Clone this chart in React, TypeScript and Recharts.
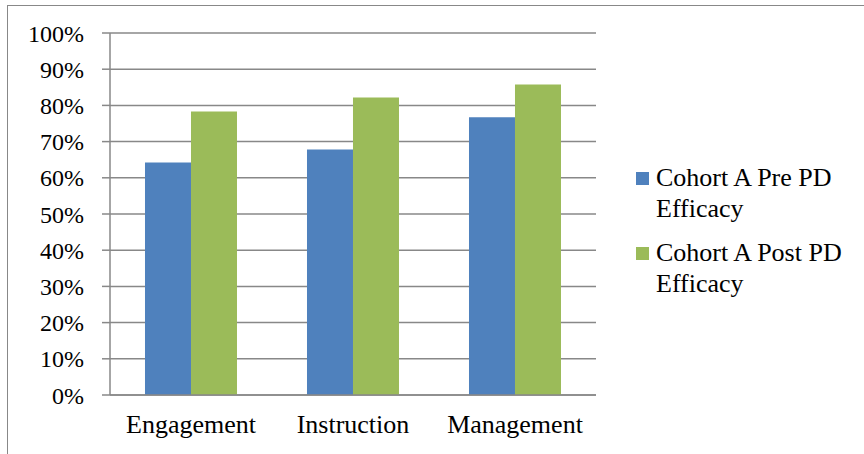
import React from 'react';
import { BarChart, Bar, XAxis, YAxis, CartesianGrid } from 'recharts';

const categories = ['Engagement', 'Instruction', 'Management'];
const preEfficacy = [0.642, 0.678, 0.767];
const postEfficacy = [0.783, 0.822, 0.858];
const yTicks = [0, 0.1, 0.2, 0.3, 0.4, 0.5, 0.6, 0.7, 0.8, 0.9, 1];
const seriesNames = ['Cohort A Pre PD Efficacy', 'Cohort A Post PD Efficacy'];
const seriesColors = ['#4F81BD', '#9BBB59'];

const data = categories.map((name, i) => ({
  name,
  pre: preEfficacy[i],
  post: postEfficacy[i],
}));

const FONT = '"Liberation Serif", "Times New Roman", serif';
const GRID = '#888888';

const LegendBox = () => (
  <div
    style={{
      position: 'absolute',
      left: 636,
      top: 162,
      fontFamily: FONT,
      fontSize: 26,
      lineHeight: '31px',
      color: '#000',
    }}
  >
    {seriesNames.map((label, i) => {
      const words = label.split(' ');
      const first = words.slice(0, -1).join(' ');
      const last = words[words.length - 1];
      return (
        <div key={label} style={{ display: 'flex', marginBottom: 13 }}>
          <div
            style={{
              width: 13,
              height: 13,
              marginTop: 10,
              marginRight: 7,
              background: seriesColors[i],
              flex: 'none',
            }}
          />
          <div style={{ whiteSpace: 'nowrap' }}>
            <div>{first}</div>
            <div>{last}</div>
          </div>
        </div>
      );
    })}
  </div>
);

export default function App() {
  return (
    <div style={{ position: 'absolute', left: 0, top: 0, width: 864, height: 454, background: '#fff', overflow: 'hidden' }}>
      <div
        style={{
          position: 'absolute',
          left: 7,
          top: 5,
          width: 900,
          height: 500,
          borderLeft: `1px solid ${GRID}`,
          borderTop: `1px solid ${GRID}`,
        }}
      />
      <BarChart
        width={864}
        height={454}
        data={data}
        margin={{ top: 33, right: 268, left: 10, bottom: 11 }}
        barCategoryGap="21.6%"
        barGap={0}
      >
        <CartesianGrid vertical={false} stroke={GRID} strokeWidth={1.5} xAxisId="b" />
        <XAxis
          xAxisId="a"
          type="number"
          domain={[0, 3]}
          ticks={[0, 1, 2, 3]}
          tick={false}
          tickSize={6}
          height={8}
          axisLine={{ stroke: GRID, strokeWidth: 1.5 }}
          tickLine={{ stroke: GRID, strokeWidth: 1.5 }}
        />
        <XAxis
          xAxisId="b"
          dataKey="name"
          axisLine={false}
          tickLine={false}
          height={40}
          tick={{ fill: '#000', fontSize: 26, fontFamily: FONT }}
          tickMargin={6}
        />
        <YAxis
          domain={[0, 1]}
          ticks={yTicks}
          interval={0}
          width={100}
          tickSize={8}
          tickMargin={18}
          tickFormatter={(v: number) => `${Math.round(v * 100)}%`}
          tick={{ fill: '#000', fontSize: 24, fontFamily: FONT }}
          axisLine={{ stroke: GRID, strokeWidth: 1.5 }}
          tickLine={{ stroke: GRID, strokeWidth: 1.5 }}
        />
        <Bar xAxisId="b" dataKey="pre" name={seriesNames[0]} fill={seriesColors[0]} isAnimationActive={false} />
        <Bar xAxisId="b" dataKey="post" name={seriesNames[1]} fill={seriesColors[1]} isAnimationActive={false} />
      </BarChart>
      <LegendBox />
    </div>
  );
}
